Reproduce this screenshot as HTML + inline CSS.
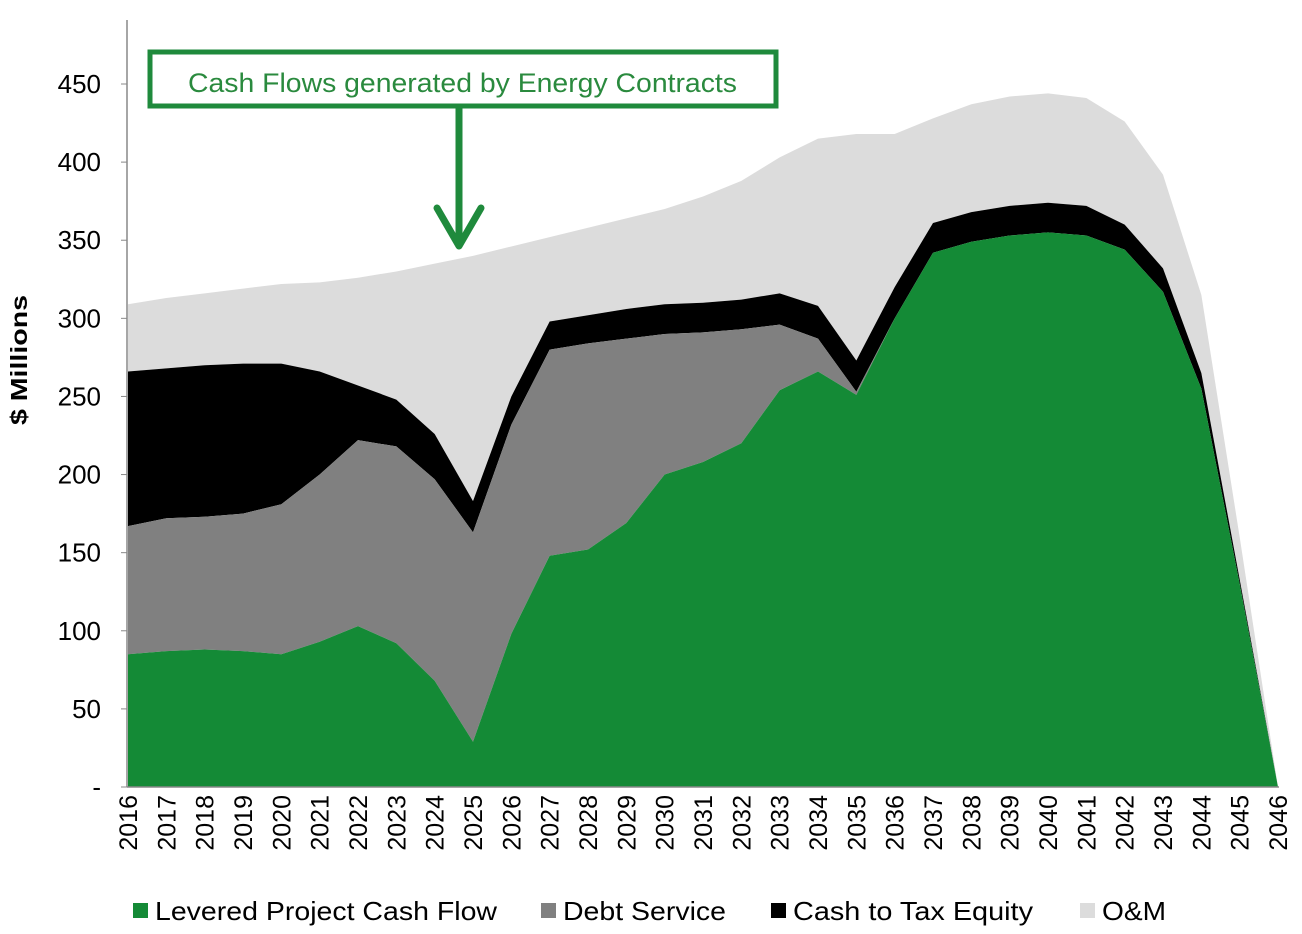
<!DOCTYPE html>
<html><head><meta charset="utf-8"><style>
body{margin:0;background:#fff;font-family:"Liberation Sans",Arial,sans-serif}
svg{display:block}
</style></head><body>
<svg width="1302" height="934" id="chart">
<g id="areas"></g>
<g id="axes"></g>
<text transform="translate(27,360) rotate(-90)" text-anchor="middle" font-size="23" font-weight="bold" fill="#000" textLength="130" lengthAdjust="spacingAndGlyphs">$ Millions</text>
<rect x="150" y="52" width="626" height="54" fill="#fff" stroke="#1f8a3c" stroke-width="5"/>
<text x="188" y="92" font-size="27" fill="#2a8a3e" textLength="549" lengthAdjust="spacingAndGlyphs">Cash Flows generated by Energy Contracts</text>
<line x1="459" y1="108" x2="459" y2="246" stroke="#1f8a3c" stroke-width="7"/>
<polyline points="437,208 459,246 481,208" fill="none" stroke="#1f8a3c" stroke-width="7" stroke-linecap="round" stroke-linejoin="round"/>
<g id="legend" font-size="26" fill="#000"></g>
</svg>
<script>
const years=[2016,2017,2018,2019,2020,2021,2022,2023,2024,2025,2026,2027,2028,2029,2030,2031,2032,2033,2034,2035,2036,2037,2038,2039,2040,2041,2042,2043,2044,2045,2046];
const levered=[85,87,88,87,85,93,103,92,68,29,98,148,152,169,200,208,220,254,266,251,300,342,349,353,355,353,344,317,255,130,0];
const debtService=[82,85,85,88,96,107,119,126,129,134,134,132,132,118,90,83,73,42,21,2,0,0,0,0,0,0,0,0,0,0,0];
const taxEquity=[99,96,97,96,90,66,35,30,29,20,18,18,18,19,19,19,19,20,21,20,20,19,19,19,19,19,16,15,10,3,0];
const om=[43,45,46,48,51,57,69,82,109,157,96,54,56,58,61,68,76,87,107,145,98,67,69,70,70,69,66,60,50,27,0];
const yTicks=[0,50,100,150,200,250,300,350,400,450];
const seriesNames=["Levered Project Cash Flow","Debt Service","Cash to Tax Equity","O&M"];
const colors=["#148a36","#808080","#000000","#dcdcdc"];
const ns="http://www.w3.org/2000/svg";
const x=i=>128+i*(1150/(years.length-1));
const y=v=>787-v*(703/450);
const series=[levered,debtService,taxEquity,om];
const areas=document.getElementById('areas');
let base=years.map(()=>0);
const stacks=series.map(s=>{const lo=base.slice();base=base.map((b,i)=>b+s[i]);return [lo,base.slice()];});
for(let k=3;k>=0;k--){
  const [lo,hi]=stacks[k];
  let d="M"+x(0)+","+y(hi[0]);
  for(let i=1;i<years.length;i++)d+=" L"+x(i)+","+y(hi[i]);
  for(let i=years.length-1;i>=0;i--)d+=" L"+x(i)+","+y(lo[i]);
  const p=document.createElementNS(ns,'path');
  p.setAttribute('d',d+"Z");p.setAttribute('fill',colors[k]);
  
  
  areas.appendChild(p);
}
const axes=document.getElementById('axes');
function mk(tag,attrs,txt){const e=document.createElementNS(ns,tag);for(const a in attrs)e.setAttribute(a,attrs[a]);if(txt!=null)e.textContent=txt;axes.appendChild(e);return e;}
let l=mk('line',{x1:127,y1:20,x2:127,y2:787,stroke:'#888','stroke-width':1.5});


l=mk('line',{x1:127,y1:787,x2:1279,y2:787,stroke:'#888','stroke-width':1.5});


yTicks.forEach(v=>{
  const t=mk('text',{x:101,y:y(v)+9,'text-anchor':'end','font-size':26,fill:'#000'},v===0?'-':String(v));
  
  
  const tk=mk('line',{x1:121,x2:127,y1:y(v),y2:y(v),stroke:'#888'});
  
  
});
years.forEach((yr,i)=>{
  const t=mk('text',{transform:`translate(${x(i)+9},795) rotate(-90)`,'text-anchor':'end','font-size':25,fill:'#000'},String(yr));
  
  
});
const leg=document.getElementById('legend');
const lx=[133,541,771,1080];
const lw=[342,163,240,64];
seriesNames.forEach((n,k)=>{
  const r=document.createElementNS(ns,'rect');
  r.setAttribute('x',lx[k]);r.setAttribute('y',903);r.setAttribute('width',15);r.setAttribute('height',15);r.setAttribute('fill',colors[k]);
  
  
  leg.appendChild(r);
  const t=document.createElementNS(ns,'text');
  t.setAttribute('x',lx[k]+22);t.setAttribute('y',920);t.textContent=n;
  t.setAttribute('textLength',lw[k]);t.setAttribute('lengthAdjust','spacingAndGlyphs');
  
  
  leg.appendChild(t);
});
</script>
</body></html>
